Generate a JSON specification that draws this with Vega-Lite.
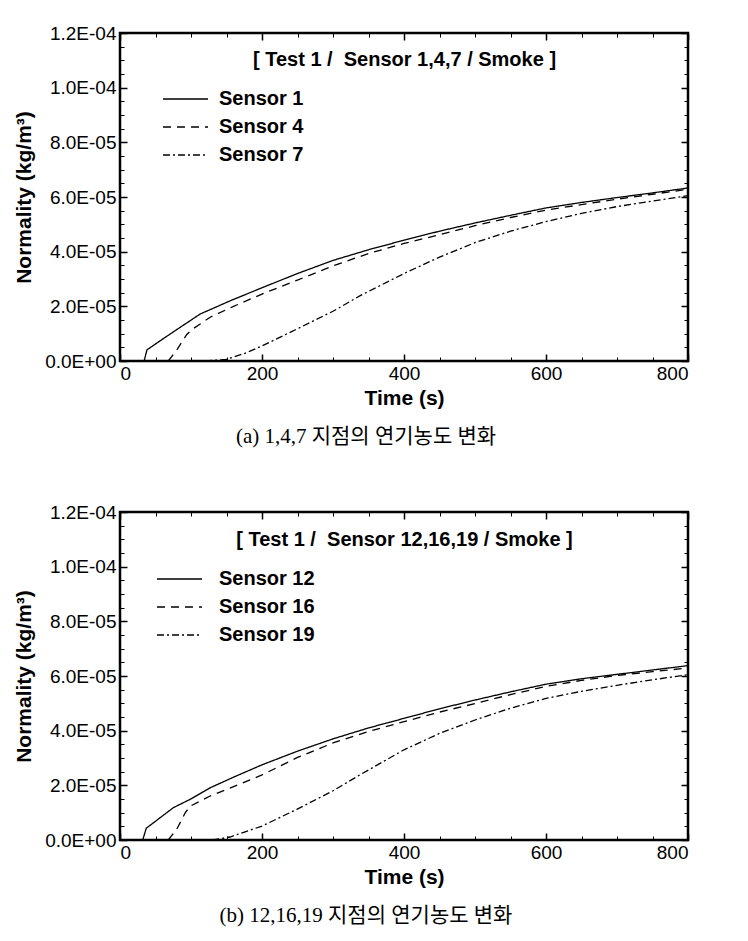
{
  "$schema": "https://vega.github.io/schema/vega-lite/v6.json",
  "background": "white",
  "padding": {"left": 12, "top": 22, "right": 10, "bottom": 5},
  "config": {
    "view": {"stroke": "black", "strokeWidth": 2.5},
    "axis": {"domain": false, "grid": false, "labelFont": "Liberation Sans", "labelFontSize": 19, "labelColor": "black", "titleFont": "Liberation Sans", "titleFontSize": 21, "titleFontWeight": "bold", "titleColor": "black", "tickColor": "black"},
    "title": {"color": "black"}
  },
  "vconcat": [
    {
      "width": 568, "height": 328,
      "title": {"text": "(a) 1,4,7 지점의 연기농도 변화", "orient": "bottom", "anchor": "middle", "font": "Liberation Serif, Noto Sans CJK KR", "fontSize": 21, "fontWeight": "normal", "offset": 18, "dx": -38},
      "data": {"values": [
        {"s": "Sensor 1", "t": 34, "v": 0}, {"s": "Sensor 1", "t": 38, "v": 4.1e-6}, {"s": "Sensor 1", "t": 60, "v": 8.0e-6}, {"s": "Sensor 1", "t": 80, "v": 1.15e-5}, {"s": "Sensor 1", "t": 113, "v": 1.72e-5}, {"s": "Sensor 1", "t": 155, "v": 2.2e-5}, {"s": "Sensor 1", "t": 200, "v": 2.68e-5}, {"s": "Sensor 1", "t": 250, "v": 3.2e-5}, {"s": "Sensor 1", "t": 300, "v": 3.68e-5}, {"s": "Sensor 1", "t": 350, "v": 4.07e-5}, {"s": "Sensor 1", "t": 400, "v": 4.42e-5}, {"s": "Sensor 1", "t": 450, "v": 4.75e-5}, {"s": "Sensor 1", "t": 500, "v": 5.05e-5}, {"s": "Sensor 1", "t": 550, "v": 5.33e-5}, {"s": "Sensor 1", "t": 600, "v": 5.6e-5}, {"s": "Sensor 1", "t": 650, "v": 5.8e-5}, {"s": "Sensor 1", "t": 700, "v": 5.98e-5}, {"s": "Sensor 1", "t": 750, "v": 6.15e-5}, {"s": "Sensor 1", "t": 800, "v": 6.33e-5},
        {"s": "Sensor 4", "t": 68, "v": 0}, {"s": "Sensor 4", "t": 80, "v": 4.0e-6}, {"s": "Sensor 4", "t": 94, "v": 9.7e-6}, {"s": "Sensor 4", "t": 103, "v": 1.18e-5}, {"s": "Sensor 4", "t": 127, "v": 1.6e-5}, {"s": "Sensor 4", "t": 160, "v": 2.0e-5}, {"s": "Sensor 4", "t": 200, "v": 2.45e-5}, {"s": "Sensor 4", "t": 250, "v": 2.96e-5}, {"s": "Sensor 4", "t": 300, "v": 3.48e-5}, {"s": "Sensor 4", "t": 350, "v": 3.93e-5}, {"s": "Sensor 4", "t": 400, "v": 4.3e-5}, {"s": "Sensor 4", "t": 450, "v": 4.62e-5}, {"s": "Sensor 4", "t": 500, "v": 4.95e-5}, {"s": "Sensor 4", "t": 550, "v": 5.25e-5}, {"s": "Sensor 4", "t": 600, "v": 5.52e-5}, {"s": "Sensor 4", "t": 650, "v": 5.72e-5}, {"s": "Sensor 4", "t": 700, "v": 5.92e-5}, {"s": "Sensor 4", "t": 750, "v": 6.1e-5}, {"s": "Sensor 4", "t": 800, "v": 6.28e-5},
        {"s": "Sensor 7", "t": 120, "v": 0}, {"s": "Sensor 7", "t": 150, "v": 6.0e-7}, {"s": "Sensor 7", "t": 178, "v": 3.0e-6}, {"s": "Sensor 7", "t": 200, "v": 5.5e-6}, {"s": "Sensor 7", "t": 250, "v": 1.18e-5}, {"s": "Sensor 7", "t": 300, "v": 1.82e-5}, {"s": "Sensor 7", "t": 339, "v": 2.4e-5}, {"s": "Sensor 7", "t": 400, "v": 3.2e-5}, {"s": "Sensor 7", "t": 450, "v": 3.8e-5}, {"s": "Sensor 7", "t": 500, "v": 4.33e-5}, {"s": "Sensor 7", "t": 550, "v": 4.75e-5}, {"s": "Sensor 7", "t": 600, "v": 5.1e-5}, {"s": "Sensor 7", "t": 650, "v": 5.4e-5}, {"s": "Sensor 7", "t": 700, "v": 5.65e-5}, {"s": "Sensor 7", "t": 750, "v": 5.85e-5}, {"s": "Sensor 7", "t": 800, "v": 6.05e-5}
      ]},
      "resolve": {"axis": {"x": "independent", "y": "independent"}},
      "layer": [
        {
          "mark": {"type": "line", "color": "black", "strokeWidth": 1.3},
          "encoding": {
            "x": {"field": "t", "type": "quantitative", "scale": {"domain": [0, 800], "nice": false}, "axis": {"orient": "bottom", "values": [0, 200, 400, 600, 800], "ticks": false, "labelPadding": 3, "title": "Time (s)", "titlePadding": 4}},
            "y": {"field": "v", "type": "quantitative", "scale": {"domain": [0, 0.00012], "nice": false}, "axis": {"orient": "left", "values": [0, 0.00002, 0.00004, 0.00006, 0.00008, 0.0001, 0.00012], "ticks": false, "labelPadding": 4, "labelExpr": "datum.value == 0 ? '0.0E+00' : format(datum.value / pow(10, floor(log(datum.value) / LN10 + 1e-9)), '.1f') + 'E-' + format(-floor(log(datum.value) / LN10 + 1e-9), '02d')", "title": "Normality (kg/m³)", "titlePadding": 10}},
            "strokeDash": {"field": "s", "type": "nominal", "scale": {"domain": ["Sensor 1", "Sensor 4", "Sensor 7"], "range": [[1, 0], [8, 6], [7, 3, 2, 3]]}, "legend": {"title": null, "orient": "none", "legendX": 42, "legendY": 52, "symbolType": "stroke", "symbolSize": 2025, "symbolStrokeWidth": 1.3, "symbolStrokeColor": "black", "labelFont": "Liberation Sans", "labelFontSize": 20, "labelFontWeight": "bold", "labelColor": "black", "labelOffset": 10, "rowPadding": 0, "clipHeight": 28}}
          }
        },
        {
          "mark": {"type": "line", "opacity": 0},
          "encoding": {
            "x": {"field": "t", "type": "quantitative", "axis": {"orient": "bottom", "offset": -7, "tickCount": 4, "ticks": true, "tickColor": "black", "tickOpacity": 1, "zindex": 2, "labelFontSize": 1, "labelOpacity": 0, "labelPadding": 0, "title": null, "tickSize": 7, "tickWidth": 1.5}},
            "y": {"field": "v", "type": "quantitative", "axis": {"orient": "left", "offset": -7, "tickCount": 6, "ticks": true, "tickColor": "black", "tickOpacity": 1, "zindex": 2, "labelFontSize": 1, "labelOpacity": 0, "labelPadding": 0, "title": null, "tickSize": 7, "tickWidth": 1.5}}
          }
        },
        {
          "mark": {"type": "line", "opacity": 0},
          "encoding": {
            "x": {"field": "t", "type": "quantitative", "axis": {"orient": "bottom", "offset": -4, "tickCount": 16, "ticks": true, "tickColor": "black", "tickOpacity": 1, "zindex": 2, "labelFontSize": 1, "labelOpacity": 0, "labelPadding": 0, "title": null, "tickSize": 4, "tickWidth": 1}},
            "y": {"field": "v", "type": "quantitative", "axis": {"orient": "left", "offset": -4, "tickCount": 24, "ticks": true, "tickColor": "black", "tickOpacity": 1, "zindex": 2, "labelFontSize": 1, "labelOpacity": 0, "labelPadding": 0, "title": null, "tickSize": 4, "tickWidth": 1}}
          }
        },
        {
          "mark": {"type": "line", "opacity": 0},
          "encoding": {
            "x": {"field": "t", "type": "quantitative", "axis": {"orient": "top", "tickCount": 4, "ticks": true, "tickColor": "black", "tickOpacity": 1, "zindex": 2, "labelFontSize": 1, "labelOpacity": 0, "labelPadding": 0, "tickSize": -7, "tickWidth": 1.5, "title": "[ Test 1 / \u00a0Sensor 1,4,7 / Smoke ]", "titleFontSize": 20, "titleY": 26, "titleBaseline": "middle"}},
            "y": {"field": "v", "type": "quantitative", "axis": {"orient": "right", "tickCount": 6, "ticks": true, "tickColor": "black", "tickOpacity": 1, "zindex": 2, "labelFontSize": 1, "labelOpacity": 0, "labelPadding": 0, "title": null, "tickSize": -7, "tickWidth": 1.5}}
          }
        },
        {
          "mark": {"type": "line", "opacity": 0},
          "encoding": {
            "x": {"field": "t", "type": "quantitative", "axis": {"orient": "top", "tickCount": 16, "ticks": true, "tickColor": "black", "tickOpacity": 1, "zindex": 2, "labelFontSize": 1, "labelOpacity": 0, "labelPadding": 0, "title": null, "tickSize": -4, "tickWidth": 1}},
            "y": {"field": "v", "type": "quantitative", "axis": {"orient": "right", "tickCount": 24, "ticks": true, "tickColor": "black", "tickOpacity": 1, "zindex": 2, "labelFontSize": 1, "labelOpacity": 0, "labelPadding": 0, "title": null, "tickSize": -4, "tickWidth": 1}}
          }
        }
      ]
    },
    {
      "width": 568, "height": 328,
      "title": {"text": "(b) 12,16,19 지점의 연기농도 변화", "orient": "bottom", "anchor": "middle", "font": "Liberation Serif, Noto Sans CJK KR", "fontSize": 21, "fontWeight": "normal", "offset": 18, "dx": -38},
      "data": {"values": [
        {"s": "Sensor 12", "t": 32, "v": 0}, {"s": "Sensor 12", "t": 37, "v": 4.3e-6}, {"s": "Sensor 12", "t": 75, "v": 1.18e-5}, {"s": "Sensor 12", "t": 99, "v": 1.49e-5}, {"s": "Sensor 12", "t": 127, "v": 1.91e-5}, {"s": "Sensor 12", "t": 160, "v": 2.3e-5}, {"s": "Sensor 12", "t": 200, "v": 2.75e-5}, {"s": "Sensor 12", "t": 250, "v": 3.25e-5}, {"s": "Sensor 12", "t": 300, "v": 3.7e-5}, {"s": "Sensor 12", "t": 350, "v": 4.1e-5}, {"s": "Sensor 12", "t": 400, "v": 4.45e-5}, {"s": "Sensor 12", "t": 450, "v": 4.8e-5}, {"s": "Sensor 12", "t": 500, "v": 5.12e-5}, {"s": "Sensor 12", "t": 550, "v": 5.42e-5}, {"s": "Sensor 12", "t": 600, "v": 5.7e-5}, {"s": "Sensor 12", "t": 650, "v": 5.9e-5}, {"s": "Sensor 12", "t": 700, "v": 6.06e-5}, {"s": "Sensor 12", "t": 750, "v": 6.22e-5}, {"s": "Sensor 12", "t": 800, "v": 6.38e-5},
        {"s": "Sensor 16", "t": 68, "v": 0}, {"s": "Sensor 16", "t": 80, "v": 4.0e-6}, {"s": "Sensor 16", "t": 92, "v": 1.0e-5}, {"s": "Sensor 16", "t": 99, "v": 1.24e-5}, {"s": "Sensor 16", "t": 127, "v": 1.61e-5}, {"s": "Sensor 16", "t": 160, "v": 1.95e-5}, {"s": "Sensor 16", "t": 200, "v": 2.38e-5}, {"s": "Sensor 16", "t": 250, "v": 3.02e-5}, {"s": "Sensor 16", "t": 300, "v": 3.55e-5}, {"s": "Sensor 16", "t": 350, "v": 3.97e-5}, {"s": "Sensor 16", "t": 400, "v": 4.33e-5}, {"s": "Sensor 16", "t": 450, "v": 4.68e-5}, {"s": "Sensor 16", "t": 500, "v": 4.99e-5}, {"s": "Sensor 16", "t": 550, "v": 5.32e-5}, {"s": "Sensor 16", "t": 600, "v": 5.62e-5}, {"s": "Sensor 16", "t": 650, "v": 5.84e-5}, {"s": "Sensor 16", "t": 700, "v": 6.02e-5}, {"s": "Sensor 16", "t": 750, "v": 6.16e-5}, {"s": "Sensor 16", "t": 800, "v": 6.29e-5},
        {"s": "Sensor 19", "t": 130, "v": 0}, {"s": "Sensor 19", "t": 155, "v": 1.1e-6}, {"s": "Sensor 19", "t": 200, "v": 5.1e-6}, {"s": "Sensor 19", "t": 249, "v": 1.12e-5}, {"s": "Sensor 19", "t": 300, "v": 1.8e-5}, {"s": "Sensor 19", "t": 339, "v": 2.4e-5}, {"s": "Sensor 19", "t": 400, "v": 3.3e-5}, {"s": "Sensor 19", "t": 450, "v": 3.9e-5}, {"s": "Sensor 19", "t": 500, "v": 4.39e-5}, {"s": "Sensor 19", "t": 550, "v": 4.82e-5}, {"s": "Sensor 19", "t": 600, "v": 5.18e-5}, {"s": "Sensor 19", "t": 650, "v": 5.44e-5}, {"s": "Sensor 19", "t": 700, "v": 5.66e-5}, {"s": "Sensor 19", "t": 750, "v": 5.86e-5}, {"s": "Sensor 19", "t": 800, "v": 6.05e-5}
      ]},
      "resolve": {"axis": {"x": "independent", "y": "independent"}},
      "layer": [
        {
          "mark": {"type": "line", "color": "black", "strokeWidth": 1.3},
          "encoding": {
            "x": {"field": "t", "type": "quantitative", "scale": {"domain": [0, 800], "nice": false}, "axis": {"orient": "bottom", "values": [0, 200, 400, 600, 800], "ticks": false, "labelPadding": 3, "title": "Time (s)", "titlePadding": 4}},
            "y": {"field": "v", "type": "quantitative", "scale": {"domain": [0, 0.00012], "nice": false}, "axis": {"orient": "left", "values": [0, 0.00002, 0.00004, 0.00006, 0.00008, 0.0001, 0.00012], "ticks": false, "labelPadding": 4, "labelExpr": "datum.value == 0 ? '0.0E+00' : format(datum.value / pow(10, floor(log(datum.value) / LN10 + 1e-9)), '.1f') + 'E-' + format(-floor(log(datum.value) / LN10 + 1e-9), '02d')", "title": "Normality (kg/m³)", "titlePadding": 10}},
            "strokeDash": {"field": "s", "type": "nominal", "scale": {"domain": ["Sensor 12", "Sensor 16", "Sensor 19"], "range": [[1, 0], [8, 6], [7, 3, 2, 3]]}, "legend": {"title": null, "orient": "none", "legendX": 36, "legendY": 53, "symbolType": "stroke", "symbolSize": 2025, "symbolStrokeWidth": 1.3, "symbolStrokeColor": "black", "labelFont": "Liberation Sans", "labelFontSize": 20, "labelFontWeight": "bold", "labelColor": "black", "labelOffset": 16, "rowPadding": 0, "clipHeight": 28}}
          }
        },
        {
          "mark": {"type": "line", "opacity": 0},
          "encoding": {
            "x": {"field": "t", "type": "quantitative", "axis": {"orient": "bottom", "offset": -7, "tickCount": 4, "ticks": true, "tickColor": "black", "tickOpacity": 1, "zindex": 2, "labelFontSize": 1, "labelOpacity": 0, "labelPadding": 0, "title": null, "tickSize": 7, "tickWidth": 1.5}},
            "y": {"field": "v", "type": "quantitative", "axis": {"orient": "left", "offset": -7, "tickCount": 6, "ticks": true, "tickColor": "black", "tickOpacity": 1, "zindex": 2, "labelFontSize": 1, "labelOpacity": 0, "labelPadding": 0, "title": null, "tickSize": 7, "tickWidth": 1.5}}
          }
        },
        {
          "mark": {"type": "line", "opacity": 0},
          "encoding": {
            "x": {"field": "t", "type": "quantitative", "axis": {"orient": "bottom", "offset": -4, "tickCount": 16, "ticks": true, "tickColor": "black", "tickOpacity": 1, "zindex": 2, "labelFontSize": 1, "labelOpacity": 0, "labelPadding": 0, "title": null, "tickSize": 4, "tickWidth": 1}},
            "y": {"field": "v", "type": "quantitative", "axis": {"orient": "left", "offset": -4, "tickCount": 24, "ticks": true, "tickColor": "black", "tickOpacity": 1, "zindex": 2, "labelFontSize": 1, "labelOpacity": 0, "labelPadding": 0, "title": null, "tickSize": 4, "tickWidth": 1}}
          }
        },
        {
          "mark": {"type": "line", "opacity": 0},
          "encoding": {
            "x": {"field": "t", "type": "quantitative", "axis": {"orient": "top", "tickCount": 4, "ticks": true, "tickColor": "black", "tickOpacity": 1, "zindex": 2, "labelFontSize": 1, "labelOpacity": 0, "labelPadding": 0, "tickSize": -7, "tickWidth": 1.5, "title": "[ Test 1 / \u00a0Sensor 12,16,19 / Smoke ]", "titleFontSize": 20, "titleY": 27, "titleBaseline": "middle"}},
            "y": {"field": "v", "type": "quantitative", "axis": {"orient": "right", "tickCount": 6, "ticks": true, "tickColor": "black", "tickOpacity": 1, "zindex": 2, "labelFontSize": 1, "labelOpacity": 0, "labelPadding": 0, "title": null, "tickSize": -7, "tickWidth": 1.5}}
          }
        },
        {
          "mark": {"type": "line", "opacity": 0},
          "encoding": {
            "x": {"field": "t", "type": "quantitative", "axis": {"orient": "top", "tickCount": 16, "ticks": true, "tickColor": "black", "tickOpacity": 1, "zindex": 2, "labelFontSize": 1, "labelOpacity": 0, "labelPadding": 0, "title": null, "tickSize": -4, "tickWidth": 1}},
            "y": {"field": "v", "type": "quantitative", "axis": {"orient": "right", "tickCount": 24, "ticks": true, "tickColor": "black", "tickOpacity": 1, "zindex": 2, "labelFontSize": 1, "labelOpacity": 0, "labelPadding": 0, "title": null, "tickSize": -4, "tickWidth": 1}}
          }
        }
      ]
    }
  ],
  "spacing": 52,
  "resolve": {"scale": {"strokeDash": "independent"}, "legend": {"strokeDash": "independent"}}
}
